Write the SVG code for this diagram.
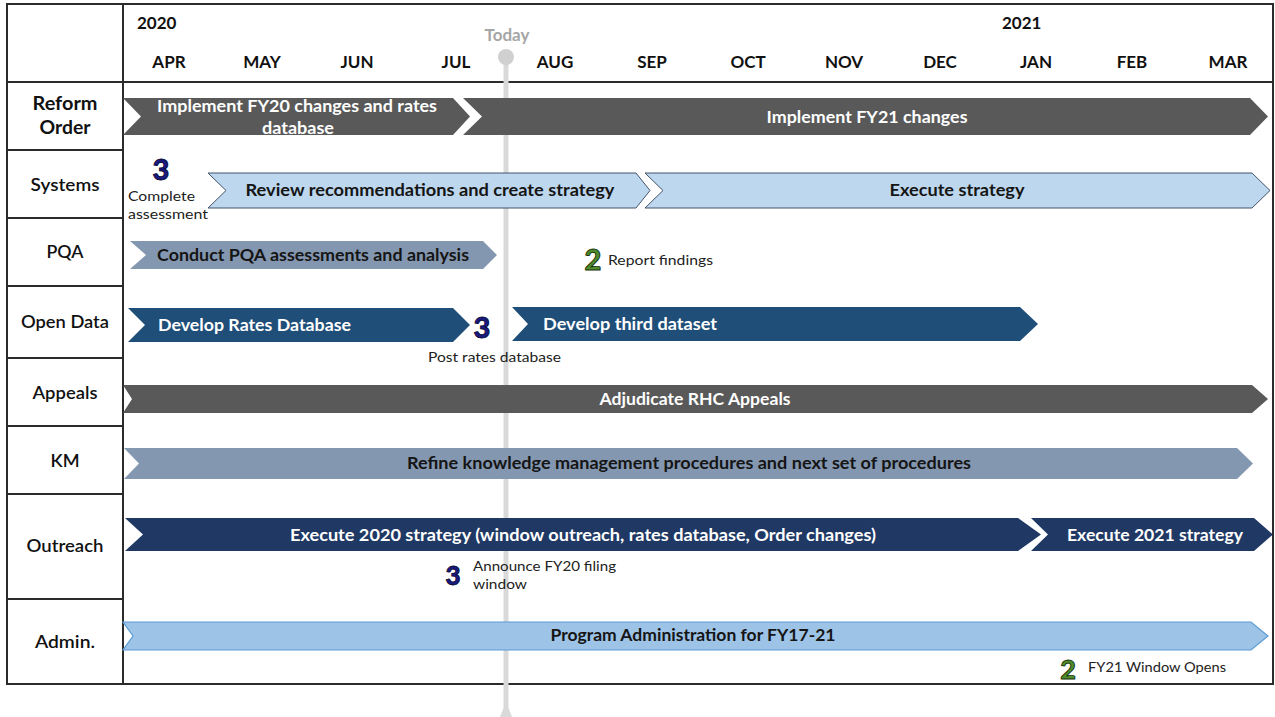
<svg xmlns="http://www.w3.org/2000/svg" width="1275" height="717" viewBox="0 0 1275 717">
<style>
text{font-family:Lato,"Liberation Sans",sans-serif}
.hdr{font-size:17px;font-weight:bold;fill:#111;text-anchor:middle}
.yr{font-size:17px;font-weight:bold;fill:#111}
.row{font-size:18px;font-weight:600;fill:#111;text-anchor:middle}
.bw{font-size:17px;font-weight:bold;fill:#fff;text-anchor:middle}
.bd{font-size:17px;font-weight:bold;fill:#151515;text-anchor:middle}
.sm{font-size:14px;fill:#222}
.m3{font-size:29px;font-weight:900;fill:#1a1a80;stroke:#05052e;stroke-width:0.8;text-anchor:middle}
.m2{font-size:29px;font-weight:900;fill:#4f8c2c;stroke:#16300a;stroke-width:0.9;text-anchor:middle}
.grid{stroke:#2b2b2b;stroke-width:2;fill:none}
.dg{fill:#595959}
.lb{fill:#bdd7ee;stroke:#44546a;stroke-width:1}
.sl{fill:#8497b0}
.db{fill:#1f4e79}
.nv{fill:#203864}
.ad{fill:#9dc3e6;stroke:#5b9bd5;stroke-width:1.2}
</style>
<rect width="1275" height="717" fill="#fff"/>
<g id="table">
<rect class="grid" x="7" y="4" width="1266" height="680"/>
<line class="grid" x1="123" y1="4" x2="123" y2="684"/>
<line class="grid" x1="7" y1="82" x2="1273" y2="82"/>
<line class="grid" x1="7" y1="150" x2="123" y2="150"/>
<line class="grid" x1="7" y1="218" x2="123" y2="218"/>
<line class="grid" x1="7" y1="286" x2="123" y2="286"/>
<line class="grid" x1="7" y1="358" x2="123" y2="358"/>
<line class="grid" x1="7" y1="426" x2="123" y2="426"/>
<line class="grid" x1="7" y1="494" x2="123" y2="494"/>
<line class="grid" x1="7" y1="599" x2="123" y2="599"/>
</g>
<g id="header">
<text class="yr" x="137" y="29">2020</text>
<text class="yr" x="1002" y="29">2021</text>
<text class="hdr" x="169" y="68">APR</text>
<text class="hdr" x="262" y="68">MAY</text>
<text class="hdr" x="357" y="68">JUN</text>
<text class="hdr" x="456" y="68">JUL</text>
<text class="hdr" x="555" y="68">AUG</text>
<text class="hdr" x="652" y="68">SEP</text>
<text class="hdr" x="748" y="68">OCT</text>
<text class="hdr" x="844" y="68">NOV</text>
<text class="hdr" x="940" y="68">DEC</text>
<text class="hdr" x="1036" y="68">JAN</text>
<text class="hdr" x="1132" y="68">FEB</text>
<text class="hdr" x="1228" y="68">MAR</text>
</g>
<g id="today">
<text x="507" y="41" style="font-size:17px;font-weight:bold;fill:#a6a6a6;text-anchor:middle">Today</text>
<rect x="503.5" y="57" width="5" height="652" fill="#d9d9d9"/>
<path d="M503.5 708 L508.5 708 L512 717 L500 717 Z" fill="#d9d9d9"/>
<circle cx="506" cy="57" r="8" fill="#d0d0d0"/>
</g>
<g id="labels">
<text class="row" x="65" y="110" style="font-weight:bold" textLength="65" lengthAdjust="spacingAndGlyphs">Reform</text>
<text class="row" x="65" y="134" style="font-weight:bold" textLength="51" lengthAdjust="spacingAndGlyphs">Order</text>
<text class="row" x="65" y="191" textLength="69" lengthAdjust="spacingAndGlyphs">Systems</text>
<text class="row" x="65" y="258" textLength="37" lengthAdjust="spacingAndGlyphs">PQA</text>
<text class="row" x="65" y="328" textLength="88" lengthAdjust="spacingAndGlyphs">Open Data</text>
<text class="row" x="65" y="399" textLength="65" lengthAdjust="spacingAndGlyphs">Appeals</text>
<text class="row" x="65" y="467" textLength="29" lengthAdjust="spacingAndGlyphs">KM</text>
<text class="row" x="65" y="552" textLength="77" lengthAdjust="spacingAndGlyphs">Outreach</text>
<text class="row" x="65" y="648" textLength="60" lengthAdjust="spacingAndGlyphs">Admin.</text>
</g>
<g id="reform">
<polygon class="dg" points="123,98 453,98 470,116.5 453,135 123,135 141,116.5"/>
<text class="bw" x="297" y="112" textLength="280" lengthAdjust="spacingAndGlyphs">Implement FY20 changes and rates</text>
<text class="bw" x="298" y="134" textLength="72" lengthAdjust="spacingAndGlyphs">database</text>
<polygon class="dg" points="463,98 1250,98 1268,116.5 1250,135 463,135 482,116.5"/>
<text class="bw" x="867" y="123" textLength="201" lengthAdjust="spacingAndGlyphs">Implement FY21 changes</text>
</g>
<g id="systems">
<text class="m3" x="161" y="180">3</text>
<text class="sm" x="128" y="201" textLength="67" lengthAdjust="spacingAndGlyphs">Complete</text>
<text class="sm" x="128" y="219" textLength="80" lengthAdjust="spacingAndGlyphs">assessment</text>
<polygon class="lb" points="208,173 636,173 650,190.5 636,208 208,208 226,190.5"/>
<text class="bd" x="430" y="196" textLength="369" lengthAdjust="spacingAndGlyphs">Review recommendations and create strategy</text>
<polygon class="lb" points="645,173 1252,173 1270,190.5 1252,208 645,208 663,190.5"/>
<text class="bd" x="957" y="196" textLength="135" lengthAdjust="spacingAndGlyphs">Execute strategy</text>
</g>
<g id="pqa">
<polygon class="sl" points="130,241 483,241 497,255 483,269 130,269 146,255"/>
<text class="bd" x="313" y="261" textLength="312" lengthAdjust="spacingAndGlyphs">Conduct PQA assessments and analysis</text>
<text class="m2" x="593" y="270">2</text>
<text class="sm" x="608" y="265" textLength="105" lengthAdjust="spacingAndGlyphs">Report findings</text>
</g>
<g id="opendata">
<polygon class="db" points="128,308 453,308 470,325 453,342 128,342 145,325"/>
<text class="bw" x="158" y="331" style="text-anchor:start" textLength="193" lengthAdjust="spacingAndGlyphs">Develop Rates Database</text>
<text class="m3" x="482" y="338">3</text>
<polygon class="db" points="512,307 1020,307 1038,324 1020,341 512,341 528,324"/>
<text class="bw" x="543" y="330" style="text-anchor:start" textLength="174" lengthAdjust="spacingAndGlyphs">Develop third dataset</text>
<text class="sm" x="428" y="362" textLength="133" lengthAdjust="spacingAndGlyphs">Post rates database</text>
</g>
<g id="appeals">
<polygon class="dg" points="123,385 1252,385 1268,399 1252,413 123,413 132,399"/>
<text class="bw" x="695" y="405" textLength="191" lengthAdjust="spacingAndGlyphs">Adjudicate RHC Appeals</text>
</g>
<g id="km">
<polygon class="sl" points="124,448 1237,448 1253,463.5 1237,479 124,479 139,463.5"/>
<text class="bd" x="689" y="469" textLength="564" lengthAdjust="spacingAndGlyphs">Refine knowledge management procedures and next set of procedures</text>
</g>
<g id="outreach">
<polygon class="nv" points="125,518 1018,518 1041,534.5 1018,551 125,551 143,534.5"/>
<text class="bw" x="583" y="541" textLength="586" lengthAdjust="spacingAndGlyphs">Execute 2020 strategy (window outreach, rates database, Order changes)</text>
<polygon class="nv" points="1031,518 1254,518 1273,534.5 1254,551 1031,551 1048,534.5"/>
<text class="bw" x="1155" y="541" textLength="176" lengthAdjust="spacingAndGlyphs">Execute 2021 strategy</text>
<text class="m3" x="453" y="585" style="font-size:26px">3</text>
<text class="sm" x="473" y="571" textLength="143" lengthAdjust="spacingAndGlyphs">Announce FY20 filing</text>
<text class="sm" x="473" y="589" textLength="54" lengthAdjust="spacingAndGlyphs">window</text>
</g>
<g id="admin">
<polygon class="ad" points="123,622 1251,622 1268,636 1251,650 123,650 133,636"/>
<text class="bd" x="693" y="641" textLength="285" lengthAdjust="spacingAndGlyphs">Program Administration for FY17-21</text>
<text class="m2" x="1068" y="679" style="font-size:27px">2</text>
<text class="sm" x="1088" y="672" textLength="138" lengthAdjust="spacingAndGlyphs">FY21 Window Opens</text>
</g>
</svg>
